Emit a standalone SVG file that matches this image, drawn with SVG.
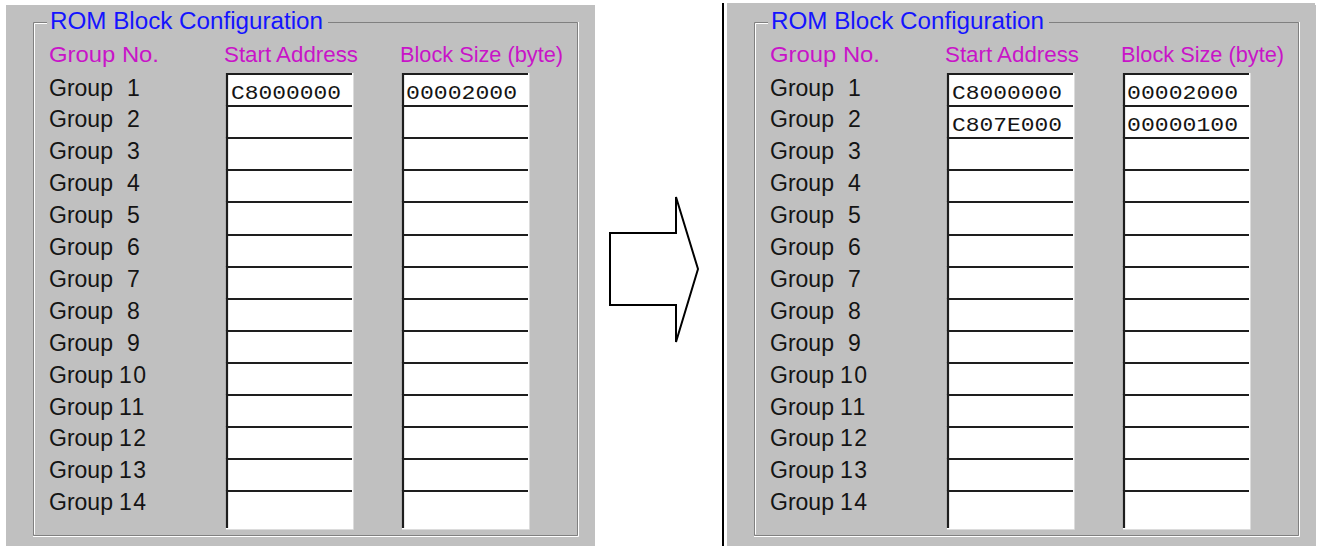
<svg xmlns="http://www.w3.org/2000/svg" xmlns:xlink="http://www.w3.org/1999/xlink" width="1320" height="546" viewBox="0 0 1320 546">
<style>
.bg{fill:#c0c0c0}
.title{font-family:"Liberation Sans",Arial,sans-serif;font-size:23px;fill:#1414ff}
.hdr{font-family:"Liberation Sans",Arial,sans-serif;font-size:22px;fill:#c814c8}
.lbl{font-family:"Liberation Sans",Arial,sans-serif;font-size:23px;fill:#141414}
.two{letter-spacing:1.5px}
.val{font-family:"Liberation Mono","Courier New",monospace;font-size:20px;fill:#141414}
.dk{stroke:#808080;stroke-width:1;fill:none}
.wh{stroke:#ffffff;stroke-width:1;fill:none}
</style>
<defs>
<g id="box">
<rect x="0" y="0" width="128" height="33" fill="#ffffff"/>
<path d="M127.5,0 V33" stroke="#dcdcdc" stroke-width="1" fill="none"/>
<path d="M0,1 H126" stroke="#1e1e1e" stroke-width="2.2" fill="none"/>
<path d="M1,0 V33" stroke="#1e1e1e" stroke-width="2.2" fill="none"/>
</g>
<g id="boxLast">
<rect x="0" y="0" width="128" height="39" fill="#ffffff"/>
<path d="M127.5,0 V39.5 H0" stroke="#dcdcdc" stroke-width="1" fill="none"/>
<path d="M0,1 H126" stroke="#1e1e1e" stroke-width="2.2" fill="none"/>
<path d="M1,0 V38" stroke="#1e1e1e" stroke-width="2.2" fill="none"/>
</g>
<g id="column">
<use xlink:href="#box" y="73"/>
<use xlink:href="#box" y="105"/>
<use xlink:href="#box" y="137"/>
<use xlink:href="#box" y="169"/>
<use xlink:href="#box" y="201"/>
<use xlink:href="#box" y="234"/>
<use xlink:href="#box" y="266"/>
<use xlink:href="#box" y="298"/>
<use xlink:href="#box" y="330"/>
<use xlink:href="#box" y="362"/>
<use xlink:href="#box" y="394"/>
<use xlink:href="#box" y="426"/>
<use xlink:href="#box" y="458"/>
<use xlink:href="#boxLast" y="490"/>
</g>
<g id="panelBase">
<rect class="bg" x="6" y="5" width="589" height="541"/>
<path class="dk" d="M47,22.5 H33.5 V535.5 H577.5 V22.5 H328"/>
<path class="wh" d="M47,23.5 H34.5 V534.5 M33,536.5 H578.5 V22"/>
<text class="title" x="50" y="29" textLength="273" lengthAdjust="spacingAndGlyphs">ROM Block Configuration</text>
<text class="hdr" x="49" y="62" textLength="110" lengthAdjust="spacingAndGlyphs">Group No.</text>
<text class="hdr" x="224" y="62" textLength="134" lengthAdjust="spacingAndGlyphs">Start Address</text>
<text class="hdr" x="400" y="62" textLength="163" lengthAdjust="spacingAndGlyphs">Block Size (byte)</text>
<g class="lbl">
<text x="49" y="95.5">Group <tspan x="127">1</tspan></text>
<text x="49" y="127.4">Group <tspan x="127">2</tspan></text>
<text x="49" y="159.3">Group <tspan x="127">3</tspan></text>
<text x="49" y="191.2">Group <tspan x="127">4</tspan></text>
<text x="49" y="223.1">Group <tspan x="127">5</tspan></text>
<text x="49" y="255">Group <tspan x="127">6</tspan></text>
<text x="49" y="286.9">Group <tspan x="127">7</tspan></text>
<text x="49" y="318.8">Group <tspan x="127">8</tspan></text>
<text x="49" y="350.7">Group <tspan x="127">9</tspan></text>
<text x="49" y="382.6">Group <tspan class="two" x="119">10</tspan></text>
<text x="49" y="414.5">Group <tspan class="two" x="119">11</tspan></text>
<text x="49" y="446.4">Group <tspan class="two" x="119">12</tspan></text>
<text x="49" y="478.3">Group <tspan class="two" x="119">13</tspan></text>
<text x="49" y="510.2">Group <tspan class="two" x="119">14</tspan></text>
</g>
<use xlink:href="#column" x="226"/>
<use xlink:href="#column" x="402"/>
</g>
</defs>
<rect x="0" y="0" width="1320" height="546" fill="#ffffff"/>
<g id="panel-before">
<use xlink:href="#panelBase"/>
<text class="val" x="231" y="99" textLength="110" lengthAdjust="spacingAndGlyphs">C8000000</text>
<text class="val" x="406" y="99" textLength="111" lengthAdjust="spacingAndGlyphs">00002000</text>
</g>
<g id="arrow">
<polygon points="610,233 676,233 676,197 698,269 676,342 676,305 610,305" fill="#ffffff" stroke="#000000" stroke-width="2" stroke-linejoin="miter"/>
</g>
<g id="divider">
<rect x="722" y="3" width="2" height="543" fill="#000000"/>
</g>
<g id="panel-after">
<rect class="bg" x="727" y="3" width="588" height="4"/>
<use xlink:href="#panelBase" x="721"/>
<text class="val" x="952" y="99" textLength="110" lengthAdjust="spacingAndGlyphs">C8000000</text>
<text class="val" x="1127" y="99" textLength="111" lengthAdjust="spacingAndGlyphs">00002000</text>
<text class="val" x="952" y="131" textLength="110" lengthAdjust="spacingAndGlyphs">C807E000</text>
<text class="val" x="1127" y="131" textLength="111" lengthAdjust="spacingAndGlyphs">00000100</text>
</g>
</svg>
